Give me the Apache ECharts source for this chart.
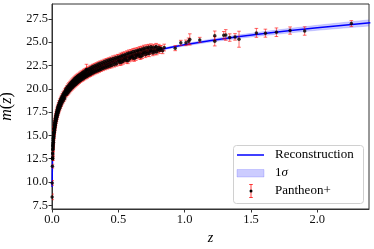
<!DOCTYPE html>
<html>
<head>
<meta charset="utf-8">
<script src="https://cdn.jsdelivr.net/npm/echarts@6/dist/echarts.min.js"></script>
<style>html,body{margin:0;padding:0;background:#fff}#c{width:374px;height:249px}</style>
</head>
<body>
<div id="c"></div>
<script>
// ---- Reconstruction curve and 1-sigma half-width ----
const recoZ = [0.001,0.002,0.004,0.007,0.01,0.015,0.02,0.03,0.045,0.06,0.08,0.1,0.13,0.16,0.2,0.25,0.3,0.36,0.42,0.5,0.6,0.7,0.8,0.9,1.0,1.2,1.4,1.6,1.8,2.0,2.2,2.4];
const recoM = [9.45,10.95,12.45,13.67,14.45,15.33,15.95,16.83,17.72,18.32,18.95,19.45,20.1,20.58,21.08,21.58,21.97,22.37,22.7,23.08,23.5,23.86,24.17,24.45,24.72,25.18,25.58,25.93,26.25,26.55,26.82,27.08];
const recoS = [0.05,0.05,0.05,0.05,0.04,0.04,0.04,0.04,0.04,0.04,0.04,0.04,0.04,0.04,0.04,0.04,0.05,0.05,0.05,0.06,0.07,0.08,0.1,0.11,0.12,0.15,0.18,0.21,0.24,0.27,0.3,0.33];

// ---- Pantheon+ observations, group A (z, m, error) ----
const zObs = [
0.0010,0.0016,0.0030,0.0038,0.0043,0.0049,0.0055,0.0060,0.0066,0.0072,0.0078,0.0084,0.0090,0.0097,0.0104,0.0112,0.0120,0.0129,0.0138,0.0147,
0.0157,0.0167,0.0178,0.0189,0.0200,0.0212,0.0224,0.0237,0.0250,0.0264,0.0278,0.0293,0.0308,0.0324,0.0340,0.0357,0.0375,0.0393,0.0412,0.0432,
0.0452,0.0473,0.0495,0.0518,0.0542,0.0567,0.0593,0.0620,0.0648,0.0677,0.0707,0.0738,0.0770,0.0803,0.0837,0.0872,0.0908,0.0945,0.0983,
0.102,0.106,0.110,0.114,0.118,0.122,0.126,0.130,0.134,0.138,0.142,0.146,0.150,0.154,0.158,0.162,0.166,0.170,0.174,0.178,
0.182,0.186,0.190,0.194,0.198,0.202,0.207,0.212,0.217,0.222,0.227,0.232,0.237,0.242,0.247,0.252,0.257,0.262,0.268,0.274,
0.280,0.286,0.292,0.298,0.304,0.310,0.317,0.324,0.331,0.338,0.345,0.352,0.359,0.366,0.374,0.382,0.390,0.398,0.406,0.414,
0.422,0.430,0.438,0.446,0.455,0.464,0.473,0.482,0.491,0.500,
0.505,0.512,0.520,0.528,0.536,0.544,0.552,0.560,0.568,0.576,0.584,0.592,0.600,0.608,0.616,0.624,0.632,0.640,0.648,0.656,
0.664,0.672,0.680,0.688,0.696,0.705,0.714,0.723,0.732,0.741,0.750,0.760,0.770,0.780,0.790,0.800,0.812,0.822,0.260,
0.834,0.846,0.929,0.971,1.010,1.030,1.039,1.114,1.227,1.227,1.295,1.310,1.340,1.380,1.410,1.541,1.609,1.692,1.795,1.905,2.257
];
const mObs = [
8.4,9.9,11.7,12.5,12.5,13.1,13.0,13.5,13.45,13.9,13.8,14.2,14.1,14.5,14.45,14.85,14.75,15.15,15.05,15.4,
15.35,15.7,15.6,15.95,15.85,16.2,16.1,16.45,16.35,16.7,16.55,16.9,16.8,17.15,17.0,17.35,17.2,17.55,17.4,17.75,
17.6,17.95,17.8,18.15,18.0,18.35,18.2,18.55,18.4,18.75,18.6,18.9,18.8,19.1,18.95,19.3,19.15,19.45,19.35,
19.62,19.55,19.8,19.74,19.95,19.85,20.12,20.02,20.3,20.15,20.4,20.28,20.5,20.38,20.7,20.5,20.8,20.62,20.9,20.72,
21.0,20.8,21.1,20.9,21.18,21.0,21.3,21.08,21.38,21.18,21.48,21.28,21.55,21.38,21.65,21.45,21.72,21.52,21.82,21.6,
21.9,21.68,22.0,21.8,22.1,21.88,22.2,21.95,22.3,22.05,22.38,22.12,22.48,22.22,22.55,22.32,22.68,22.42,22.75,22.5,
22.85,22.6,22.95,22.68,23.05,22.8,23.15,22.85,23.2,22.95,
23.35,22.8,23.15,23.45,22.95,23.3,23.55,23.05,23.4,23.7,23.2,23.5,23.8,23.3,23.6,23.85,23.35,23.7,24.0,23.5,
23.8,24.1,23.55,23.9,24.2,23.65,24.0,24.3,23.75,24.1,24.35,23.85,24.15,24.4,23.95,24.25,24.1,24.35,22.08,
24.07,24.43,24.36,24.93,24.93,25.1,25.3,25.25,25.7,25.1,25.75,25.78,25.5,25.57,25.32,26.0,25.97,26.07,26.25,26.2,27.0
];
const eObs = [
0.3,0.25,0.2,0.18,0.2,0.18,0.2,0.18,0.2,0.18,0.2,0.18,0.2,0.18,0.2,0.18,0.2,0.18,0.2,0.18,
0.2,0.18,0.2,0.18,0.2,0.18,0.2,0.18,0.2,0.18,0.2,0.18,0.2,0.18,0.2,0.18,0.2,0.18,0.2,0.18,
0.2,0.18,0.2,0.18,0.2,0.18,0.2,0.18,0.2,0.18,0.2,0.18,0.2,0.18,0.2,0.18,0.2,0.18,0.2,
0.2,0.22,0.2,0.22,0.2,0.22,0.2,0.22,0.2,0.22,0.2,0.22,0.2,0.22,0.2,0.22,0.2,0.22,0.2,0.22,
0.2,0.22,0.2,0.22,0.2,0.22,0.2,0.22,0.2,0.22,0.2,0.22,0.2,0.22,0.2,0.22,0.2,0.22,0.2,0.22,
0.22,0.25,0.22,0.25,0.22,0.25,0.22,0.25,0.22,0.25,0.22,0.25,0.22,0.25,0.22,0.25,0.22,0.25,0.22,0.25,
0.25,0.28,0.25,0.28,0.25,0.28,0.25,0.28,0.25,0.28,
0.3,0.3,0.28,0.3,0.3,0.28,0.3,0.3,0.28,0.3,0.3,0.28,0.3,0.3,0.28,0.3,0.3,0.28,0.3,0.3,
0.28,0.3,0.3,0.28,0.3,0.3,0.28,0.3,0.3,0.28,0.3,0.3,0.28,0.3,0.3,0.28,0.3,0.3,0.55,
0.3,0.36,0.27,0.27,0.3,0.35,0.6,0.27,0.5,0.5,0.4,0.57,0.4,0.35,0.86,0.48,0.43,0.46,0.39,0.45,0.32
];

// ---- Pantheon+ observations, group B (dense region, wider scatter) ----
const zObs2 = [
0.0035,0.0052,0.0068,0.0081,0.0095,0.0108,0.0125,0.0142,0.0152,0.0172,
0.0183,0.0195,0.0206,0.0218,0.0230,0.0244,0.0257,0.0271,0.0285,0.0300,
0.0316,0.0332,0.0348,0.0366,0.0384,0.0402,0.0422,0.0442,0.0462,0.0484,
0.0506,0.0530,0.0555,0.0580,0.0606,0.0634,0.0662,0.0692,0.0722,0.0754,
0.0786,0.0820,0.0855,0.0890,0.0926,0.0964,0.1000,0.104,0.108,0.112,
0.116,0.120,0.124,0.128,0.132,0.136,0.140,0.144,0.148,0.152,
0.156,0.160,0.164,0.168,0.172,0.176,0.180,0.184,0.188,0.192,
0.196,0.200,0.205,0.210,0.215,0.220,0.225,0.230,0.235,0.240,
0.245,0.250,0.255,0.260,0.265,0.271,0.277,0.283,0.289,0.295,
0.301,0.307,0.314,0.321,0.328,0.335,0.342,0.349,0.356,0.363,
0.370,0.378,0.386,0.394,0.402,0.410,0.418,0.426,0.434,0.442,
0.450,0.460,0.469,0.478,0.487,0.496,0.508,0.516,0.524,0.532,
0.540,0.548,0.556,0.564,0.572,0.580,0.588,0.596,0.604,0.612,
0.620,0.628,0.636,0.644,0.652,0.660,0.668,0.676,0.684,0.692,
0.700,0.710,0.719,0.728,0.737,0.746,0.755,0.765,0.775,0.785,
0.795,0.805,0.817
];
const mObs2 = [
12.52,12.68,13.96,13.64,14.69,14.27,15.28,14.86,15.71,15.28,
16.11,15.55,16.37,15.79,16.61,16.04,16.85,16.27,17.08,16.49,
17.3,16.71,17.51,16.92,17.72,17.12,17.93,17.33,18.12,17.52,
18.32,17.72,18.52,17.92,18.71,18.11,18.9,18.3,19.09,18.49,
19.28,18.67,19.46,18.85,19.63,19.02,19.8,19.95,19.35,20.13,
19.5,20.27,19.64,20.41,19.78,20.55,19.92,20.68,20.05,20.81,
20.17,20.93,20.29,21.04,20.39,21.15,20.5,21.25,20.59,21.34,
20.69,21.43,20.79,21.54,20.9,21.65,21.0,21.74,21.09,21.84,
21.18,21.93,21.27,22.01,21.35,22.1,21.45,22.19,21.54,22.28,
21.63,22.38,21.72,22.47,21.82,22.56,21.9,22.65,21.99,22.74,
22.08,22.82,22.17,22.92,22.26,23.0,22.34,23.08,22.42,23.16,
22.5,23.25,22.59,23.33,22.67,23.41,23.0,23.5,22.85,23.6,
23.1,23.65,23.2,23.75,23.0,23.85,23.3,23.9,23.45,24.0,
23.25,24.05,23.55,24.1,23.65,24.2,23.45,24.25,23.75,24.35,
23.9,24.4,23.8,24.45,24.0,24.5,24.05,24.45,23.95,24.55,
24.2,24.45,24.3
];
const eObs2 = [
0.22,0.2,0.22,0.2,0.22,0.2,0.22,0.2,0.22,0.2,
0.22,0.2,0.22,0.2,0.22,0.2,0.22,0.2,0.22,0.2,
0.22,0.2,0.22,0.2,0.22,0.2,0.22,0.2,0.22,0.2,
0.22,0.2,0.22,0.2,0.22,0.2,0.22,0.2,0.22,0.2,
0.22,0.2,0.22,0.2,0.22,0.2,0.22,0.2,0.22,0.2,
0.22,0.25,0.22,0.25,0.22,0.25,0.22,0.25,0.22,0.25,
0.22,0.25,0.22,0.25,0.22,0.25,0.22,0.25,0.22,0.25,
0.22,0.25,0.22,0.25,0.22,0.25,0.22,0.25,0.22,0.25,
0.22,0.25,0.22,0.25,0.22,0.25,0.22,0.25,0.22,0.25,
0.22,0.25,0.22,0.25,0.22,0.25,0.22,0.25,0.22,0.25,
0.22,0.25,0.22,0.25,0.22,0.25,0.22,0.25,0.22,0.25,
0.25,0.28,0.25,0.28,0.25,0.28,0.3,0.32,0.3,0.32,
0.3,0.32,0.3,0.32,0.3,0.32,0.3,0.32,0.3,0.32,
0.3,0.32,0.3,0.32,0.3,0.32,0.3,0.32,0.3,0.32,
0.3,0.32,0.3,0.32,0.3,0.32,0.3,0.32,0.3,0.32,
0.3,0.32,0.3
];

// ---- tick labels ----
const xTicks = [0, 0.5, 1.0, 1.5, 2.0];
const yTicks = [7.5, 10, 12.5, 15, 17.5, 20, 22.5, 25, 27.5];

const FONT = '"Liberation Serif", "DejaVu Serif", serif';

const recoData = recoZ.map((z, i) => [z, recoM[i], recoS[i]]);
const obsData = zObs.map((z, i) => [z, mObs[i], eObs[i]])
  .concat(zObs2.map((z, i) => [z, mObs2[i], eObs2[i]]));

function bandItem(params, api) {
  if (params.dataIndex !== 0) return null;
  const up = recoData.map(d => api.coord([d[0], d[1] + d[2]]));
  const lo = recoData.map(d => api.coord([d[0], d[1] - d[2]]));
  const poly = up.concat(lo.slice().reverse());
  const edge = {stroke: 'rgba(0,0,255,0.25)', lineWidth: 0.6, fill: null};
  return {type: 'group', children: [
    {type: 'polygon', shape: {points: poly}, style: {fill: 'rgba(0,0,255,0.2)'}},
    {type: 'polyline', shape: {points: up}, style: edge},
    {type: 'polyline', shape: {points: lo}, style: edge}
  ]};
}

function errItem(params, api) {
  const x = api.value(0), y = api.value(1), e = api.value(2);
  const t = api.coord([x, y + e]);
  const b = api.coord([x, y - e]);
  const st = {stroke: 'rgba(255,0,0,0.6)', lineWidth: 1};
  const cw = 1.8;
  return {type: 'group', children: [
    {type: 'line', shape: {x1: t[0], y1: t[1], x2: b[0], y2: b[1]}, style: st},
    {type: 'line', shape: {x1: t[0] - cw, y1: t[1], x2: t[0] + cw, y2: t[1]}, style: st},
    {type: 'line', shape: {x1: b[0] - cw, y1: b[1], x2: b[0] + cw, y2: b[1]}, style: st}
  ]};
}

const chart = echarts.init(document.getElementById('c'), null, {renderer: 'canvas'});
chart.setOption({
  animation: false,
  grid: {left: 52, top: 4, right: 5, bottom: 40, outerBoundsMode: 'none', containLabel: false,
         show: true, borderColor: '#333', borderWidth: 1, backgroundColor: 'transparent'},
  xAxis: {
    type: 'value', min: 0, max: 2.39,
    name: 'z', nameLocation: 'middle', nameGap: 21,
    nameTextStyle: {fontFamily: FONT, fontSize: 14, fontStyle: 'italic', color: '#000'},
    axisLine: {show: true, onZero: false, lineStyle: {color: '#333', width: 1}},
    axisTick: {show: true, length: 3.5, customValues: xTicks, lineStyle: {color: '#333'}},
    axisLabel: {customValues: xTicks, formatter: v => v.toFixed(1), fontFamily: FONT, fontSize: 12.5, color: '#111', margin: 4},
    splitLine: {show: false}
  },
  yAxis: {
    type: 'value', min: 7.1, max: 29.1,
    name: '{i|m}({i|z})', nameLocation: 'middle', nameGap: 30,
    nameTextStyle: {fontFamily: FONT, fontSize: 16, color: '#000', rich: {i: {fontFamily: FONT, fontSize: 16, fontStyle: 'italic', color: '#000'}}},
    axisLine: {show: true, onZero: false, lineStyle: {color: '#333', width: 1}},
    axisTick: {show: true, length: 3.5, customValues: yTicks, lineStyle: {color: '#333'}},
    axisLabel: {customValues: yTicks, formatter: v => v.toFixed(1), fontFamily: FONT, fontSize: 12.5, color: '#111', margin: 4},
    splitLine: {show: false}
  },
  series: [
    {type: 'custom', name: '1σ', data: recoData, encode: {x: 0, y: 1}, renderItem: bandItem, clip: true, silent: true, z: 1},
    {type: 'line', name: 'Reconstruction', data: recoData.map(d => [d[0], d[1]]), symbol: 'none',
     lineStyle: {color: '#0000ff', width: 1.5}, z: 2},
    {type: 'custom', name: 'Pantheon+', data: obsData, encode: {x: 0, y: 1}, clip: true, z: 3, renderItem: errItem},
    {type: 'scatter', data: obsData, symbol: 'circle', symbolSize: 3.5,
     itemStyle: {color: '#000'}, z: 4, silent: true}
  ],
  graphic: [
    {type: 'rect', shape: {x: 233.5, y: 145.5, width: 130, height: 58, r: 3},
     style: {fill: 'rgba(255,255,255,0.85)', stroke: '#d0d0d0', lineWidth: 1}, z: 100},
    {type: 'line', shape: {x1: 237, y1: 155, x2: 264, y2: 155}, style: {stroke: '#0000ff', lineWidth: 1.5}, z: 101},
    {type: 'rect', shape: {x: 237, y: 169.5, width: 27, height: 7.5},
     style: {fill: 'rgba(0,0,255,0.2)', stroke: 'rgba(0,0,255,0.25)', lineWidth: 0.6}, z: 101},
    {type: 'line', shape: {x1: 251, y1: 184.5, x2: 251, y2: 197.5}, style: {stroke: 'rgba(255,0,0,0.75)', lineWidth: 1}, z: 101},
    {type: 'line', shape: {x1: 249.2, y1: 184.5, x2: 252.8, y2: 184.5}, style: {stroke: 'rgba(255,0,0,0.75)', lineWidth: 1}, z: 101},
    {type: 'line', shape: {x1: 249.2, y1: 197.5, x2: 252.8, y2: 197.5}, style: {stroke: 'rgba(255,0,0,0.75)', lineWidth: 1}, z: 101},
    {type: 'circle', shape: {cx: 251, cy: 191, r: 1.5}, style: {fill: '#000'}, z: 102},
    {type: 'text', x: 275, y: 155, style: {text: 'Reconstruction', fontFamily: FONT, fontSize: 13, fill: '#000', verticalAlign: 'middle'}, z: 101},
    {type: 'text', x: 275, y: 173, style: {text: '1{i|σ}', fontFamily: FONT, fontSize: 13, fill: '#000', verticalAlign: 'middle',
      rich: {i: {fontFamily: FONT, fontSize: 13, fontStyle: 'italic', fill: '#000'}}}, z: 101},
    {type: 'text', x: 275, y: 191, style: {text: 'Pantheon+', fontFamily: FONT, fontSize: 13, fill: '#000', verticalAlign: 'middle'}, z: 101}
  ]
});
</script>
</body>
</html>
